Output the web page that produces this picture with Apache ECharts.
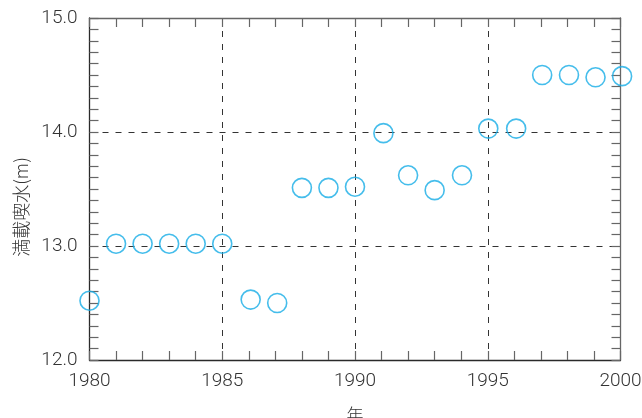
<!DOCTYPE html>
<html>
<head>
<meta charset="utf-8">
<script src="https://cdn.jsdelivr.net/npm/echarts@6/dist/echarts.min.js"></script>
<style>
html,body{margin:0;padding:0;background:#fff;}
#chart{width:642px;height:418px;}
</style>
</head>
<body>
<div id="chart"></div>
<script>
var years = [1980, 1981, 1982, 1983, 1984, 1985, 1986.07, 1987.07, 1988, 1989, 1990, 1991.07, 1992, 1993, 1994.03, 1995.02, 1996.07, 1997.05, 1998.06, 1999.06, 2000.06];
var draft = [12.52, 13.02, 13.02, 13.02, 13.02, 13.02, 12.53, 12.50, 13.51, 13.51, 13.52, 13.99, 13.62, 13.49, 13.62, 14.03, 14.03, 14.50, 14.50, 14.48, 14.49];
var xTickLabels = ['1980', '1985', '1990', '1995', '2000'];
var yTickLabels = ['12.0', '13.0', '14.0', '15.0'];
var xName = '年';
var yName = '満載喫水(m)';

var points = years.map(function (y, i) { return [y, draft[i]]; });
var labelFont = "Roboto, 'Noto Sans', sans-serif";
var cjkFont = "'Noto Sans CJK JP', sans-serif";
var lineCol = '#2a2a2a';
var tickCol = '#666';

var chart = echarts.init(document.getElementById('chart'), null, {renderer: 'canvas'});
chart.setOption({
  animation: false,
  backgroundColor: '#fff',
  grid: {left: 89.5, top: 18, width: 531, height: 342, containLabel: false, outerBoundsMode: 'none'},
  xAxis: [{
    type: 'value', min: 1980, max: 2000, interval: 5, position: 'bottom',
    name: xName, nameLocation: 'middle', nameGap: 46,
    nameTextStyle: {fontFamily: cjkFont, fontSize: 17, fontWeight: 300, color: '#333'},
    axisLine: {show: true, lineStyle: {color: lineCol, width: 1.3}},
    axisTick: {show: true, inside: true, length: 9, lineStyle: {color: tickCol, width: 1.2}},
    minorTick: {show: true, splitNumber: 5, length: 9, lineStyle: {color: tickCol, width: 1.2}},
    axisLabel: {margin: 12, fontFamily: labelFont, fontSize: 19, fontWeight: 300, color: '#333',
      formatter: function (v) { var i = xTickLabels.indexOf(String(v)); return i >= 0 ? xTickLabels[i] : ''; }},
    splitLine: {show: true, lineStyle: {color: '#333', width: 1, type: [6, 7]}},
    minorSplitLine: {show: false}
  }, {
    type: 'value', min: 1980, max: 2000, interval: 5, position: 'top',
    axisLine: {show: true, lineStyle: {color: tickCol, width: 1.3}},
    axisTick: {show: true, inside: true, length: 9, lineStyle: {color: tickCol, width: 1.2}},
    minorTick: {show: true, splitNumber: 5, length: 9, lineStyle: {color: tickCol, width: 1.2}},
    axisLabel: {show: false}, splitLine: {show: false}
  }],
  yAxis: [{
    type: 'value', min: 12, max: 15, interval: 1, position: 'left',
    name: yName, nameLocation: 'middle', nameGap: 58, nameRotate: 90,
    nameTextStyle: {fontFamily: cjkFont, fontSize: 18, fontWeight: 300, color: '#333', padding: [0, 36, 0, 0]},
    axisLine: {show: true, lineStyle: {color: lineCol, width: 1.3}},
    axisTick: {show: true, inside: true, length: 9, lineStyle: {color: tickCol, width: 1.2}},
    minorTick: {show: true, splitNumber: 10, length: 9, lineStyle: {color: tickCol, width: 1.2}},
    axisLabel: {margin: 12, fontFamily: labelFont, fontSize: 19, fontWeight: 300, color: '#333',
      formatter: function (v) { var s = v.toFixed(1); return yTickLabels.indexOf(s) >= 0 ? s : ''; }},
    splitLine: {show: true, lineStyle: {color: '#333', width: 1, type: [6, 7]}},
    minorSplitLine: {show: false}
  }, {
    type: 'value', min: 12, max: 15, interval: 1, position: 'right',
    axisLine: {show: true, lineStyle: {color: tickCol, width: 1.3}},
    axisTick: {show: true, inside: true, length: 9, lineStyle: {color: tickCol, width: 1.2}},
    minorTick: {show: true, splitNumber: 10, length: 9, lineStyle: {color: tickCol, width: 1.2}},
    axisLabel: {show: false}, splitLine: {show: false}
  }],
  series: [{
    type: 'scatter',
    xAxisIndex: 0, yAxisIndex: 0,
    data: points,
    symbol: 'circle',
    symbolSize: 19,
    clip: false,
    itemStyle: {color: 'rgba(255,255,255,0)', borderColor: '#17ade6', borderWidth: 1.6},
    z: 10
  }]
});
</script>
</body>
</html>
